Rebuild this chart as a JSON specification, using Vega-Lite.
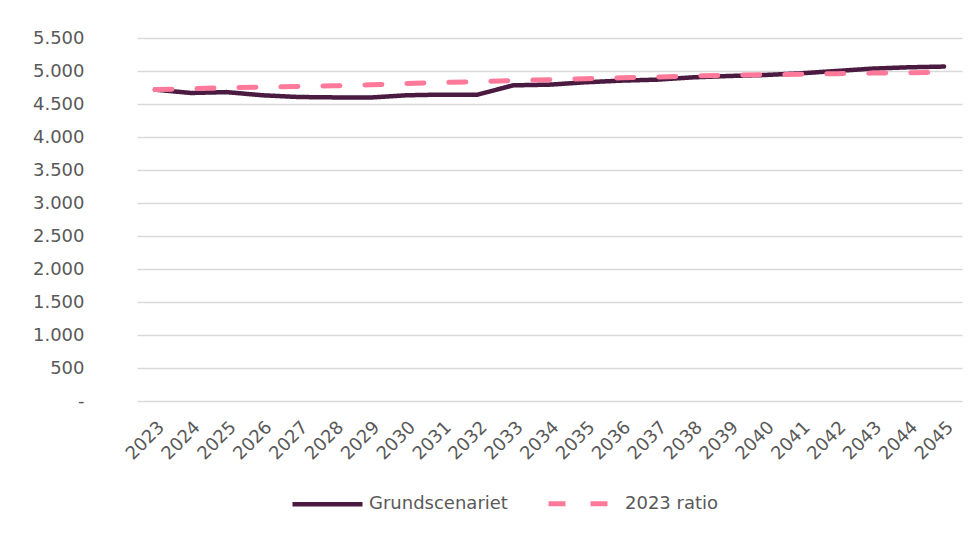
{
  "$schema": "https://vega.github.io/schema/vega-lite/v6.json",
  "autosize": {"type": "none"},
  "width": 825,
  "height": 363,
  "padding": {"left": 137, "top": 38, "right": 17, "bottom": 132},
  "background": "white",
  "config": {
    "view": {"stroke": null},
    "font": "DejaVu Sans",
    "axis": {"labelFont": "DejaVu Sans", "labelColor": "#595959", "labelFontSize": 18}
  },
  "data": {
    "values": [
      {"year": "2023", "series": "Grundscenariet", "value": 4718},
      {"year": "2024", "series": "Grundscenariet", "value": 4667},
      {"year": "2025", "series": "Grundscenariet", "value": 4680},
      {"year": "2026", "series": "Grundscenariet", "value": 4632},
      {"year": "2027", "series": "Grundscenariet", "value": 4606},
      {"year": "2028", "series": "Grundscenariet", "value": 4600},
      {"year": "2029", "series": "Grundscenariet", "value": 4598},
      {"year": "2030", "series": "Grundscenariet", "value": 4632},
      {"year": "2031", "series": "Grundscenariet", "value": 4642},
      {"year": "2032", "series": "Grundscenariet", "value": 4642},
      {"year": "2033", "series": "Grundscenariet", "value": 4783},
      {"year": "2034", "series": "Grundscenariet", "value": 4793},
      {"year": "2035", "series": "Grundscenariet", "value": 4829},
      {"year": "2036", "series": "Grundscenariet", "value": 4854},
      {"year": "2037", "series": "Grundscenariet", "value": 4869},
      {"year": "2038", "series": "Grundscenariet", "value": 4904},
      {"year": "2039", "series": "Grundscenariet", "value": 4924},
      {"year": "2040", "series": "Grundscenariet", "value": 4939},
      {"year": "2041", "series": "Grundscenariet", "value": 4965},
      {"year": "2042", "series": "Grundscenariet", "value": 5000},
      {"year": "2043", "series": "Grundscenariet", "value": 5036},
      {"year": "2044", "series": "Grundscenariet", "value": 5056},
      {"year": "2045", "series": "Grundscenariet", "value": 5067},
      {"year": "2023", "series": "2023 ratio", "value": 4718},
      {"year": "2024", "series": "2023 ratio", "value": 4733},
      {"year": "2025", "series": "2023 ratio", "value": 4745},
      {"year": "2026", "series": "2023 ratio", "value": 4755},
      {"year": "2027", "series": "2023 ratio", "value": 4765},
      {"year": "2028", "series": "2023 ratio", "value": 4775},
      {"year": "2029", "series": "2023 ratio", "value": 4790},
      {"year": "2030", "series": "2023 ratio", "value": 4810},
      {"year": "2031", "series": "2023 ratio", "value": 4825},
      {"year": "2032", "series": "2023 ratio", "value": 4840},
      {"year": "2033", "series": "2023 ratio", "value": 4855},
      {"year": "2034", "series": "2023 ratio", "value": 4868},
      {"year": "2035", "series": "2023 ratio", "value": 4882},
      {"year": "2036", "series": "2023 ratio", "value": 4897},
      {"year": "2037", "series": "2023 ratio", "value": 4910},
      {"year": "2038", "series": "2023 ratio", "value": 4925},
      {"year": "2039", "series": "2023 ratio", "value": 4935},
      {"year": "2040", "series": "2023 ratio", "value": 4943},
      {"year": "2041", "series": "2023 ratio", "value": 4952},
      {"year": "2042", "series": "2023 ratio", "value": 4960},
      {"year": "2043", "series": "2023 ratio", "value": 4968},
      {"year": "2044", "series": "2023 ratio", "value": 4974},
      {"year": "2045", "series": "2023 ratio", "value": 4978}
    ]
  },
  "mark": {"type": "line", "strokeCap": "round", "strokeJoin": "round"},
  "encoding": {
    "x": {
      "field": "year",
      "type": "ordinal",
      "scale": {"type": "point", "padding": 0.5},
      "axis": {
        "title": null,
        "labelAngle": -45,
        "ticks": false,
        "domain": false,
        "grid": false,
        "labelPadding": 17,
        "labelDx": -4
      }
    },
    "y": {
      "field": "value",
      "type": "quantitative",
      "scale": {"domain": [0, 5500], "nice": false},
      "axis": {
        "title": null,
        "values": [0, 500, 1000, 1500, 2000, 2500, 3000, 3500, 4000, 4500, 5000, 5500],
        "labelExpr": "datum.value == 0 ? '-\u00a0\u00a0' : replace(format(datum.value, ','), ',', '.')",
        "ticks": false,
        "domain": false,
        "grid": true,
        "gridColor": "#d9d9d9",
        "gridWidth": 1.5,
        "labelPadding": 53
      }
    },
    "color": {
      "field": "series",
      "type": "nominal",
      "scale": {"domain": ["Grundscenariet", "2023 ratio"], "range": ["#4a1a40", "#ff7a9a"]},
      "legend": {
        "title": null,
        "orient": "none",
        "direction": "horizontal",
        "legendX": 153,
        "legendY": 428,
        "symbolType": "stroke",
        "symbolSize": 4900,
        "symbolStrokeWidth": 5,
        "labelFont": "DejaVu Sans",
        "labelFontSize": 18,
        "labelColor": "#595959",
        "labelOffset": 4,
        "columnPadding": 30
      }
    },
    "strokeDash": {
      "field": "series",
      "type": "nominal",
      "scale": {"domain": ["Grundscenariet", "2023 ratio"], "range": [[1, 0], [17, 25]]},
      "legend": null
    },
    "strokeWidth": {
      "field": "series",
      "type": "nominal",
      "scale": {"domain": ["Grundscenariet", "2023 ratio"], "range": [4.5, 5]},
      "legend": null
    }
  }
}
